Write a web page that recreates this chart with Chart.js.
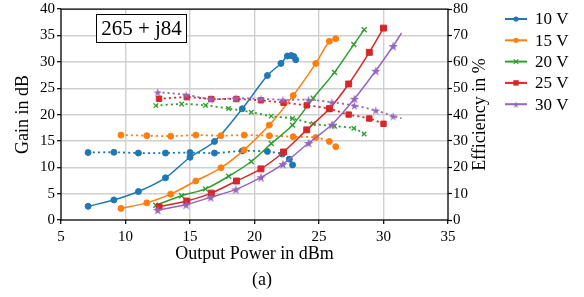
<!DOCTYPE html>
<html>
<head>
<meta charset="utf-8">
<script src="https://cdn.jsdelivr.net/npm/chart.js@4.4.0/dist/chart.umd.min.js"></script>
<style>
body { margin: 0; background: #fff; }
canvas { display: block; }
</style>
</head>
<body>
<canvas id="myChart" width="584" height="297"></canvas>
<script>
var labels = ['10 V', '15 V', '20 V', '25 V', '30 V'];
var couleurs = ['#1f77b4', '#ff7f0e', '#2ca02c', '#d62728', '#9467bd'];

var xTicks = [5, 10, 15, 20, 25, 30, 35];
var gainTicks = [0, 5, 10, 15, 20, 25, 30, 35, 40];
var effTicks = [0, 10, 20, 30, 40, 50, 60, 70, 80];

// 10 V
var pout10 = [7.1, 9.1, 11.0, 13.1, 15.0, 16.9, 19.05, 21.0, 22.05, 22.55, 22.85, 23.05, 23.2];
var gain10 = [2.6, 3.8, 5.4, 8.0, 11.9, 14.9, 21.1, 27.4, 29.7, 31.1, 31.2, 31.0, 30.4];
var pout10Eff = [7.1, 9.1, 11.0, 13.1, 15.0, 16.9, 19.05, 21.0, 22.15, 22.7, 22.95];
var eff10 = [25.6, 25.7, 25.4, 25.4, 25.6, 25.4, 26.2, 26.0, 25.0, 23.1, 20.9];

// 15 V
var pout15 = [9.65, 11.65, 13.5, 15.45, 17.4, 19.2, 21.15, 23.0, 24.75, 25.8, 26.3];
var gain15 = [2.2, 3.25, 4.9, 7.4, 9.9, 13.3, 18.0, 23.6, 29.7, 33.9, 34.4];
var eff15 = [32.2, 32.0, 31.8, 32.2, 32.0, 32.2, 32.0, 31.6, 31.3, 29.8, 27.8];

// 20 V
var pout20 = [12.35, 14.35, 16.2, 18.0, 19.75, 21.3, 22.95, 24.55, 26.2, 27.7, 28.5];
var gain20 = [2.8, 4.6, 5.9, 8.3, 11.1, 14.5, 18.0, 23.1, 28.0, 33.3, 36.1];
var eff20 = [43.4, 44.0, 43.5, 42.3, 40.9, 39.4, 38.5, 36.5, 35.6, 34.8, 32.6];

// 25 V
var pout25 = [12.6, 14.75, 16.65, 18.6, 20.5, 22.25, 24.05, 25.8, 27.3, 28.9, 30.0];
var gain25 = [2.5, 3.6, 5.1, 7.4, 9.7, 12.9, 17.1, 21.1, 25.8, 31.8, 36.4];
var eff25 = [46.0, 46.6, 45.9, 45.9, 45.4, 44.5, 43.5, 42.2, 40.0, 38.5, 36.5];

// 30 V
var pout30 = [12.5, 14.7, 16.6, 18.55, 20.5, 22.2, 24.2, 26.0, 27.75, 29.4, 30.75, 31.4];
var gain30 = [1.9, 2.9, 4.3, 5.8, 8.1, 10.6, 14.6, 18.1, 23.0, 28.3, 33.0, 35.5];
var eff30 = [48.5, 47.5, 45.9, 46.2, 46.0, 45.6, 45.6, 44.7, 43.4, 41.6, 39.4, 38.6];

var police = '"Liberation Serif", "Times New Roman", serif';

function paires(xs, ys) {
    return xs.map(function(x, i) { return {x: x, y: ys[i]}; });
}

function etoile(taille, couleur) {
    var c = document.createElement('canvas');
    c.width = taille; c.height = taille;
    var g = c.getContext('2d');
    var r = taille / 2, ri = r * 0.382;
    g.fillStyle = couleur;
    g.beginPath();
    for (var k = 0; k < 10; k++) {
        var rr = k % 2 === 0 ? r : ri;
        var ang = -Math.PI / 2 + k * Math.PI / 5;
        g.lineTo(r + rr * Math.cos(ang), r + 0.6 + rr * Math.sin(ang));
    }
    g.closePath();
    g.fill();
    return c;
}

var styles = ['circle', 'circle', 'crossRot', 'rect', etoile(10, couleurs[4])];
var stylesEff = ['circle', 'circle', 'crossRot', 'rect', etoile(9, couleurs[4])];
var rayons = [3, 3, 3.5, 4.2, 4];
var rayonsEff = [3, 3, 3.2, 3.8, 4];

var series = [
    {pout: pout10, gain: gain10, poutEff: pout10Eff, eff: eff10},
    {pout: pout15, gain: gain15, poutEff: pout15, eff: eff15},
    {pout: pout20, gain: gain20, poutEff: pout20, eff: eff20},
    {pout: pout25, gain: gain25, poutEff: pout25, eff: eff25},
    {pout: pout30, gain: gain30, poutEff: pout30, eff: eff30}
];

var datasets = [];
series.forEach(function(s, i) {
    var rGain = s.pout.map(function() { return rayons[i]; });
    var rEff = s.poutEff.map(function() { return rayonsEff[i]; });
    if (i === 4) { rGain[rGain.length - 1] = 0; rEff[rEff.length - 1] = 0; }
    datasets.push({
        label: labels[i],
        data: paires(s.pout, s.gain),
        yAxisID: 'y',
        borderColor: couleurs[i],
        backgroundColor: couleurs[i],
        borderWidth: 1.5,
        tension: 0.3,
        pointStyle: styles[i],
        pointRadius: rGain,
        pointBorderWidth: i === 2 ? 1.4 : 1,
        order: 100 - datasets.length
    });
    datasets.push({
        label: labels[i] + ' eff',
        data: paires(s.poutEff, s.eff),
        yAxisID: 'y2',
        borderColor: couleurs[i],
        backgroundColor: couleurs[i],
        borderWidth: 1.8,
        borderDash: [2, 3],
        tension: 0.3,
        pointStyle: stylesEff[i],
        pointRadius: rEff,
        pointBorderWidth: i === 2 ? 1.3 : 1,
        order: 100 - datasets.length
    });
});

function marqueur(ctx, i, x, y) {
    ctx.fillStyle = couleurs[i];
    ctx.strokeStyle = couleurs[i];
    ctx.lineWidth = 1.2;
    if (i < 2) {
        ctx.beginPath(); ctx.arc(x, y, 2.6, 0, Math.PI * 2); ctx.fill();
    } else if (i === 2) {
        ctx.beginPath();
        ctx.moveTo(x - 2.3, y - 2.3); ctx.lineTo(x + 2.3, y + 2.3);
        ctx.moveTo(x - 2.3, y + 2.3); ctx.lineTo(x + 2.3, y - 2.3);
        ctx.stroke();
    } else if (i === 3) {
        ctx.fillRect(x - 2.7, y - 2.7, 5.4, 5.4);
    } else {
        var e = etoile(7, couleurs[4]);
        ctx.drawImage(e, x - 3.5, y - 3.5);
    }
}

var decor = {
    id: 'decor',
    afterDraw: function(chart) {
        var ctx = chart.ctx, a = chart.chartArea;
        ctx.save();
        ctx.strokeStyle = '#000';
        ctx.lineWidth = 1.3;
        ctx.strokeRect(a.left, a.top, a.right - a.left, a.bottom - a.top);

        ctx.fillStyle = '#000';
        ctx.font = '18px ' + police;
        ctx.textAlign = 'center';
        ctx.textBaseline = 'middle';
        ctx.fillText('Output Power in dBm', (a.left + a.right) / 2, 254);
        ctx.fillText('(a)', 262, 280);

        ctx.save();
        ctx.translate(23, (a.top + a.bottom) / 2);
        ctx.rotate(-Math.PI / 2);
        ctx.fillText('Gain in dB', 0, 0);
        ctx.restore();

        ctx.save();
        ctx.translate(480, (a.top + a.bottom) / 2);
        ctx.rotate(-Math.PI / 2);
        ctx.fillText('Efficiency in %', 0, 0);
        ctx.restore();

        // boite d'impedance
        ctx.fillStyle = '#fff';
        ctx.fillRect(96, 14, 91, 29);
        ctx.lineWidth = 1;
        ctx.strokeRect(96.5, 14.5, 90, 28);
        ctx.fillStyle = '#000';
        ctx.font = '21px ' + police;
        ctx.fillText('265 + j84', 141.5, 29);

        // legende
        ctx.font = '17px ' + police;
        ctx.textAlign = 'left';
        for (var i = 0; i < labels.length; i++) {
            var ly = 19 + i * 21.3;
            ctx.strokeStyle = couleurs[i];
            ctx.lineWidth = 2;
            ctx.beginPath(); ctx.moveTo(505, ly); ctx.lineTo(527, ly); ctx.stroke();
            marqueur(ctx, i, 516, ly);
            ctx.fillStyle = '#000';
            ctx.fillText(labels[i], 535, ly + 1);
        }
        ctx.restore();
    }
};

var gris = '#d0d0d0';

document.addEventListener('DOMContentLoaded', function() {
    var ctx = document.getElementById('myChart');
    var graphique = new Chart(ctx.getContext('2d'), {
        type: 'line',
        data: { datasets: datasets },
        plugins: [decor],
        options: {
            responsive: false,
            animation: false,
            layout: { padding: { top: 0, right: 0, left: 0, bottom: 0 } },
            plugins: { legend: { display: false }, tooltip: { enabled: false } },
            scales: {
                x: {
                    type: 'linear',
                    min: xTicks[0], max: xTicks[xTicks.length - 1],
                    ticks: { stepSize: xTicks[1] - xTicks[0], color: '#000', font: { family: police, size: 15 }, padding: 4, maxRotation: 0 },
                    grid: {
                        color: function(c) { return (c.tick && (c.tick.value === xTicks[0] || c.tick.value === xTicks[xTicks.length - 1])) ? 'rgba(0,0,0,0)' : gris; },
                        lineWidth: 1.4, tickColor: '#000', tickLength: 4, tickWidth: 1.2
                    },
                    border: { display: false },
                    afterFit: function(s) { s.height = 77; }
                },
                y: {
                    position: 'left',
                    min: gainTicks[0], max: gainTicks[gainTicks.length - 1],
                    ticks: { stepSize: gainTicks[1] - gainTicks[0], color: '#000', font: { family: police, size: 15, lineHeight: 0.95 }, padding: 2 },
                    grid: {
                        color: function(c) { return (c.tick && (c.tick.value === gainTicks[0] || c.tick.value === gainTicks[gainTicks.length - 1])) ? 'rgba(0,0,0,0)' : gris; },
                        lineWidth: 1.4, tickColor: '#000', tickLength: 4, tickWidth: 1.2
                    },
                    border: { display: false },
                    afterFit: function(s) { s.width = 61; }
                },
                y2: {
                    position: 'right',
                    min: effTicks[0], max: effTicks[effTicks.length - 1],
                    ticks: { stepSize: effTicks[1] - effTicks[0], color: '#000', font: { family: police, size: 15, lineHeight: 0.95 }, padding: 1 },
                    grid: { drawOnChartArea: false, tickColor: '#000', tickLength: 4, tickWidth: 1.2 },
                    border: { display: false },
                    afterFit: function(s) { s.width = 136; }
                }
            }
        }
    });
});
</script>
</body>
</html>
